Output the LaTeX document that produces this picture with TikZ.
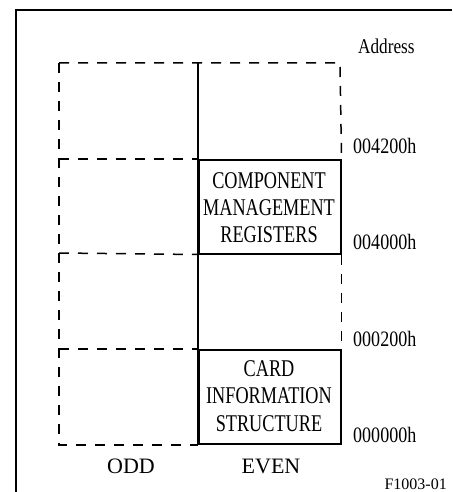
\documentclass[tikz,border=0pt]{standalone}
\usepackage{fontspec}
\setmainfont{Liberation Serif}
\newfontfamily\boxfont[FakeStretch=0.76]{Liberation Serif}
\newfontfamily\addrfont[FakeStretch=0.82]{Liberation Serif}
\begin{document}
\begin{tikzpicture}[x=1pt,y=-1pt,
  frame/.style={line width=1.1pt},
  dashline/.style={line width=1.5pt,dash pattern=on 10pt off 9pt},
  solidline/.style={line width=1.2pt},
  region/.style={draw,line width=1.5pt,inner sep=0pt,minimum width=142pt,minimum height=94pt,anchor=north west},
  boxtext/.style={anchor=base,inner sep=0pt,font=\boxfont\fontsize{24}{27}\selectfont},
  addr/.style={anchor=base west,inner sep=0pt,font=\addrfont\fontsize{22}{24}\selectfont},
  col/.style={anchor=base,inner sep=0pt,font=\fontsize{22}{24}\selectfont}]
\useasboundingbox (0,0) rectangle (452,492);
% frame
\draw[frame] (16,492) -- (16,10) -- (452,10);
% regions (solid boxes)
\node[region] (cmr) at (198,159) {};
\node[region] (cis) at (198,349) {};
\coordinate (tl) at (59,63);
\coordinate (tm) at (198,63);
\coordinate (tr) at (340,63);
\coordinate (bl) at (59,445);
\coordinate (bm) at (198,445);
% middle solid vertical
\draw[solidline] (tm) -- (bm);
% dashed lines
\draw[dashline] (tl) -- (tm) -- (tr) -- (cmr.north east);
\draw[dashline] (cmr.south east) -- (cis.north east);
\draw[dashline] (tl) -- (bl) -- (bm);
\draw[dashline] (59,159) -- (cmr.north west);
\draw[dashline] (59,253) -- (cmr.south west);
\draw[dashline] (59,349) -- (cis.north west);
% box texts
\node[boxtext] (c1) at (269,188) {COMPONENT};
\node[boxtext] (c2) at (269,215) {MANAGEMENT};
\node[boxtext] (c3) at (269,242) {REGISTERS};
\node[boxtext] (d1) at (269,376) {CARD};
\node[boxtext] (d2) at (269,403) {INFORMATION};
\node[boxtext] (d3) at (269,431) {STRUCTURE};
% addresses
\node[addr,font=\addrfont\fontsize{21}{24}\selectfont] (adr) at (358,54) {Address};
\node[addr] (a1) at (353,153) {004200h};
\node[addr] (a2) at (353,249) {004000h};
\node[addr] (a3) at (353,346) {000200h};
\node[addr] (a4) at (353,442) {000000h};
% columns
\node[col] (odd) at (131,473) {ODD};
\node[col] (even) at (271,473) {EVEN};
\node[anchor=base east,inner sep=0pt,font=\fontsize{16}{18}\selectfont] (fig) at (447,489) {F1003-01};
\end{tikzpicture}
\end{document}
